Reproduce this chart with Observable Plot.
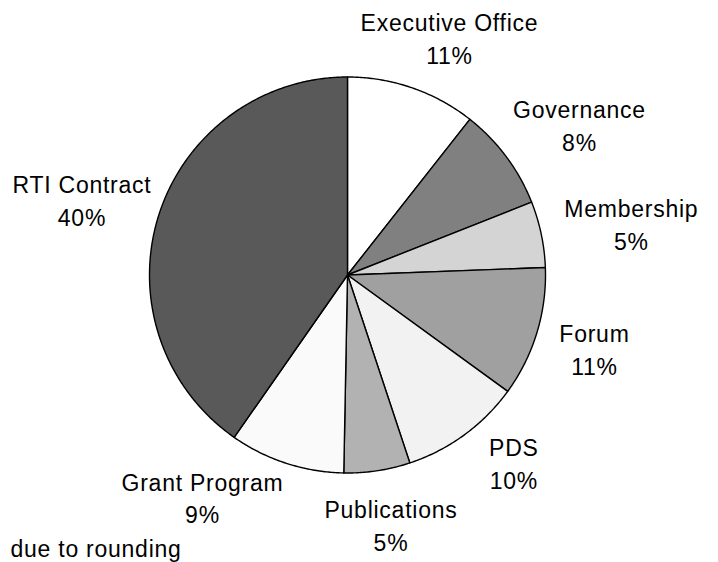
<!DOCTYPE html>
<html>
<head>
<meta charset="utf-8">
<script src="https://cdn.jsdelivr.net/npm/d3@7"></script>
<script src="https://cdn.jsdelivr.net/npm/@observablehq/plot@0.6"></script>
<style>
  html, body { margin: 0; padding: 0; background: #ffffff; overflow: hidden; }
  #chart svg { display: block; }
  #chart svg text { letter-spacing: 0.75px; }
</style>
</head>
<body>
<div id="chart"></div>
<script>
// ---- data ----
const categories = ["Executive Office", "Governance", "Membership", "Forum", "PDS", "Publications", "Grant Program", "RTI Contract"];
const shares = [10.6, 8.4, 5.4, 10.6, 9.9, 5.4, 9.4, 40.3];
const percentLabels = ["11%", "8%", "5%", "11%", "10%", "5%", "9%", "40%"];
const sliceColors = ["#ffffff", "#808080", "#d4d4d4", "#a0a0a0", "#f2f2f2", "#b2b2b2", "#fafafa", "#595959"];
const noteText = "due to rounding";

// ---- layout ----
const W = 718, H = 562;
const cx = 347, cy = 274.5, R = 198;
const fontSize = 23;
const letterSpacing = 0.75;
const fontFamily = "'Liberation Sans', Arial, sans-serif";
const gap = 25;
const boxH = 58;
const padX = 40, padY = 4;
const edge = 12;

const total = d3.sum(shares);
const slicePoints = [];
const ctx = document.createElement("canvas").getContext("2d");
ctx.font = `${fontSize}px ${fontFamily}`;
const textWidth = s => ctx.measureText(s).width + letterSpacing * s.length;

function labelBox(angle, w) {
  const ux = Math.sin(angle), uy = -Math.cos(angle); // pixel space, y down
  let px = (R + gap) * ux + ux * w / 2;
  let py = (R + gap) * uy + uy * boxH / 2;
  // keep the label inside the frame
  px = Math.max(px, -cx + edge + w / 2);
  px = Math.min(px, W - cx - 2 - w / 2);
  py = Math.max(py, -cy + 2 + boxH / 2);
  return {px, py, x0: px - w / 2, x1: px + w / 2, y0: py - boxH / 2, y1: py + boxH / 2};
}
const overlaps = (a, b) =>
  a.x0 < b.x1 + padX && b.x0 < a.x1 + padX && a.y0 < b.y1 + padY && b.y0 < a.y1 + padY;
const poleDist = a => { const r = ((a % Math.PI) + Math.PI) % Math.PI; return Math.min(r, Math.PI - r); };

const mids = [], widths = [];
let cum = 0;
categories.forEach((name, i) => {
  const a0 = cum / total * 2 * Math.PI;
  cum += shares[i];
  const a1 = cum / total * 2 * Math.PI;
  slicePoints.push({name, x: 0, y: 0});
  const n = Math.max(2, Math.ceil((a1 - a0) / (Math.PI / 360)));
  for (let k = 0; k <= n; k++) {
    const a = a0 + (a1 - a0) * k / n;
    slicePoints.push({name, x: Math.sin(a), y: Math.cos(a)});
  }
  mids.push((a0 + a1) / 2);
  widths.push(Math.max(textWidth(name), textWidth(percentLabels[i])));
});

// resolve label collisions: the label farther from the vertical axis moves away
const angles = mids.slice();
const step = Math.PI / 720;
for (let iter = 0; iter < 2000; iter++) {
  let changed = false;
  for (let i = 0; i < angles.length; i++) {
    const j = (i + 1) % angles.length;
    const bi = labelBox(angles[i], widths[i]);
    const bj = labelBox(angles[j], widths[j]);
    if (overlaps(bi, bj)) {
      if (poleDist(angles[i]) > poleDist(angles[j])) angles[i] -= step;
      else angles[j] += step;
      changed = true;
    }
  }
  if (!changed) break;
}

const labelData = categories.map((name, i) => {
  const b = labelBox(angles[i], widths[i]);
  return {text: name + "\n" + percentLabels[i], x: b.px / R, y: -b.py / R};
});

const chart = Plot.plot({
  width: W,
  height: H,
  margin: 0,
  style: {background: "#ffffff", fontFamily, overflow: "hidden"},
  x: {domain: [-cx / R, (W - cx) / R], axis: null},
  y: {domain: [-(H - cy) / R, cy / R], axis: null},
  color: {domain: categories, range: sliceColors},
  marks: [
    Plot.line(slicePoints, {
      x: "x", y: "y", z: "name", fill: "name",
      stroke: "#000000", strokeWidth: 1.4, strokeLinejoin: "round",
      curve: "linear-closed"
    }),
    Plot.text(labelData, {
      x: "x", y: "y", text: "text",
      fontSize, lineHeight: 1.43, fill: "#000000", textAnchor: "middle"
    }),
    Plot.text([noteText], {
      frameAnchor: "bottom-left", text: d => d,
      dx: 10, dy: -6, lineAnchor: "bottom",
      fontSize, fill: "#000000", textAnchor: "start"
    })
  ]
});
document.getElementById("chart").appendChild(chart);
</script>
</body>
</html>
